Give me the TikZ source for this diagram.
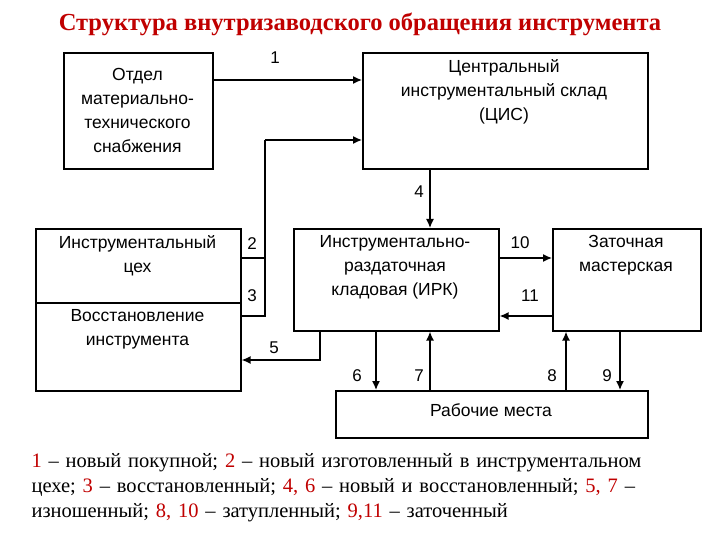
\documentclass[tikz,border=0pt]{standalone}
\usepackage{fontspec}
\setmainfont{Liberation Serif}
\newfontfamily\boxfont{Liberation Sans}
\usetikzlibrary{arrows.meta}
\definecolor{tred}{RGB}{192,0,0}
\begin{document}
\begin{tikzpicture}[x=1pt,y=-1pt,
  blk/.style={draw,line width=1.6pt,inner sep=0pt},
  txt/.style={align=center,font=\boxfont\fontsize{17.5}{24}\selectfont},
  arr/.style={line width=1.4pt,-{Latex[length=9pt,width=8pt]}},
  lnk/.style={line width=1.4pt},
  num/.style={font=\boxfont\fontsize{17}{18}\selectfont}]
\useasboundingbox (0,0) rectangle (720,540);
\node[font=\bfseries\fontsize{24.5}{26}\selectfont,text=tred] (title) at (360,24) {Структура внутризаводского обращения инструмента};
\node[blk,minimum width=149pt,minimum height=116pt,anchor=north west] (otd) at (63,52) {};
\node[txt] (otdt) at (137.5,110) {Отдел\\материально-\\технического\\снабжения};
\node[blk,minimum width=285pt,minimum height=116pt,anchor=north west] (cis) at (362,52) {};
\node[txt,anchor=north] (cist) at (504,56) {Центральный\\инструментальный склад\\(ЦИС)};
\node[blk,minimum width=205pt,minimum height=74pt,anchor=north west] (ceh) at (35,228) {};
\node[txt,anchor=north] (ceht) at (137.5,232) {Инструментальный\\цех};
\node[blk,minimum width=205pt,minimum height=88pt,anchor=north west] (vos) at (35,302) {};
\node[txt,anchor=north] (vost) at (137.5,306) {Восстановление\\инструмента};
\node[blk,minimum width=205pt,minimum height=102pt,anchor=north west] (irk) at (293,228) {};
\node[txt,anchor=north] (irkt) at (395,232) {Инструментально-\\раздаточная\\кладовая (ИРК)};
\node[blk,minimum width=148pt,minimum height=102pt,anchor=north west] (zat) at (552,228) {};
\node[txt,anchor=north] (zatt) at (626,232) {Заточная\\мастерская};
\node[blk,minimum width=312pt,minimum height=47pt,anchor=north west] (rab) at (335,390) {};
\node[txt] (rabt) at (491,410) {Рабочие места};
% connectors
\draw[arr] (otd.east |- 0,80) -- (cis.west |- 0,80);
\node[num] (n1) at (275,58) {1};
\coordinate (j) at (265,140);
\draw[lnk] (ceh.east |- 0,258) -- (265,258) -- (j);
\draw[lnk] (vos.east |- 0,316) -- (265,316) -- (265,258);
\draw[arr] (j) -- (cis.west |- j);
\node[num] (n2) at (252,244) {2};
\node[num] (n3) at (252,296) {3};
\draw[arr] (cis.south -| 430,0) -- (irk.north -| 430,0);
\node[num] (n4) at (419,192) {4};
\draw[arr] (irk.south -| 320,0) -- (320,360) -- (vos.east |- 0,360);
\node[num] (n5) at (274,348) {5};
\draw[arr] (irk.east |- 0,258) -- (zat.west |- 0,258);
\node[num] (n10) at (520,243) {10};
\draw[arr] (zat.west |- 0,316) -- (irk.east |- 0,316);
\node[num] (n11) at (530,296) {11};
\draw[arr] (irk.south -| 376,0) -- (rab.north -| 376,0);
\node[num] (n6) at (357,376) {6};
\draw[arr] (rab.north -| 430,0) -- (irk.south -| 430,0);
\node[num] (n7) at (419,376) {7};
\draw[arr] (rab.north -| 566,0) -- (zat.south -| 566,0);
\node[num] (n8) at (552,376) {8};
\draw[arr] (zat.south -| 620,0) -- (rab.north -| 620,0);
\node[num] (n9) at (607,376) {9};
% legend
\node[anchor=north west,align=left,text width=690pt,font=\fontsize{20.5}{25}\selectfont] (leg) at (28,450)
{\textcolor{tred}{1} – новый покупной; \textcolor{tred}{2} – новый изготовленный в инструментальном\\
цехе; \textcolor{tred}{3} – восстановленный; \textcolor{tred}{4, 6} – новый и восстановленный; \textcolor{tred}{5, 7} –\\
изношенный; \textcolor{tred}{8, 10} – затупленный; \textcolor{tred}{9,11} – заточенный};
\end{tikzpicture}
\end{document}
